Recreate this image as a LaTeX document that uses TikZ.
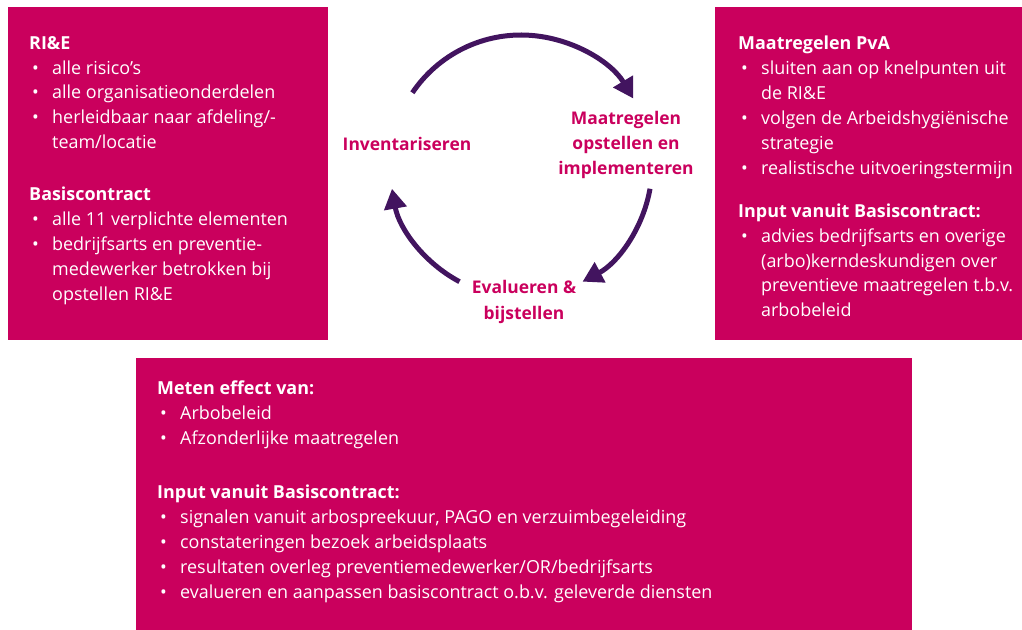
\documentclass[tikz,border=0pt]{standalone}
\usepackage{fontspec}
\setmainfont{Open Sans}
\usetikzlibrary{arrows.meta,positioning}

\definecolor{robijn}{HTML}{CA005D}
\definecolor{cyclepurple}{HTML}{42145F}

% bullet with hanging indent
\newcommand{\itm}{\makebox[23bp][l]{\hspace{3bp}\textbullet}}
\newcommand{\cnt}{\hspace*{23bp}}

\begin{document}
\begin{tikzpicture}[x=1bp,y=-1bp,
  box/.style={fill=robijn,inner sep=0pt,anchor=north west},
  boxtext/.style={text=white,align=left,inner sep=0pt,font=\fontsize{18}{25}\selectfont},
  phase/.style={text=robijn,align=center,font=\bfseries\fontsize{17.5}{25.5}\selectfont},
  turn/.style={draw=cyclepurple,line width=5bp,-{Triangle[length=20bp,width=22bp]}}]
  \useasboundingbox (0,0) rectangle (1022,630);

  % the three boxes
  \node[box,minimum width=320bp,minimum height=333bp] (rie) at (8,7) {};
  \node[box,minimum width=307bp,minimum height=333bp] (pva) at (715,7) {};
  \node[box,minimum width=776bp,minimum height=272bp] (meten) at (136,358) {};

  \node[boxtext,below right=29bp and 21bp of rie.north west] (rietext) {%
    \textbf{RI\&E}\\
    \itm alle risico’s\\
    \itm alle organisatieonderdelen\\
    \itm herleidbaar naar afdeling/-\\
    \cnt team/locatie\\[27bp]
    \textbf{Basiscontract}\\
    \itm alle 11 verplichte elementen\\
    \itm bedrijfsarts en preventie-\\
    \cnt medewerker betrokken bij\\
    \cnt opstellen RI\&E};

  \node[boxtext,below right=29bp and 23bp of pva.north west] (pvatext) {%
    \textbf{Maatregelen PvA}\\
    \itm sluiten aan op knelpunten uit\\
    \cnt de RI\&E\\
    \itm volgen de Arbeidshygiënische\\
    \cnt strategie\\
    \itm realistische uitvoeringstermijn\\[18bp]
    \textbf{Input vanuit Basiscontract:}\\
    \itm advies bedrijfsarts en overige\\
    \cnt (arbo)kerndeskundigen over\\
    \cnt preventieve maatregelen t.b.v.\\
    \cnt arbobeleid};

  \node[boxtext,below right=23bp and 21bp of meten.north west] (metentext) {%
    \textbf{Meten effect van:}\\
    \itm Arbobeleid\\
    \itm Afzonderlijke maatregelen\\[29bp]
    \textbf{Input vanuit Basiscontract:}\\
    \itm signalen vanuit arbospreekuur, PAGO en verzuimbegeleiding\\
    \itm constateringen bezoek arbeidsplaats\\
    \itm resultaten overleg preventiemedewerker/OR/bedrijfsarts\\
    \itm evalueren en aanpassen basiscontract o.b.v. geleverde diensten};

  % cycle (y runs downwards, so angles turn clockwise)
  \coordinate (c) at (521,166);
  \node[phase] (inv) at (407,144) {Inventariseren};
  \node[phase] (mao) at (626,145) {Maatregelen\\opstellen en\\implementeren};
  \node[phase] (evb) at (524,302) {Evalueren \&\\bijstellen};

  \draw[turn] (c) ++(-146:131) arc[start angle=-146,end angle=-31,radius=131];
  \draw[turn] (c) ++(10:131) arc[start angle=10,end angle=62,radius=131];
  \draw[turn] (c) ++(118:131) arc[start angle=118,end angle=170,radius=131];
\end{tikzpicture}
\end{document}
